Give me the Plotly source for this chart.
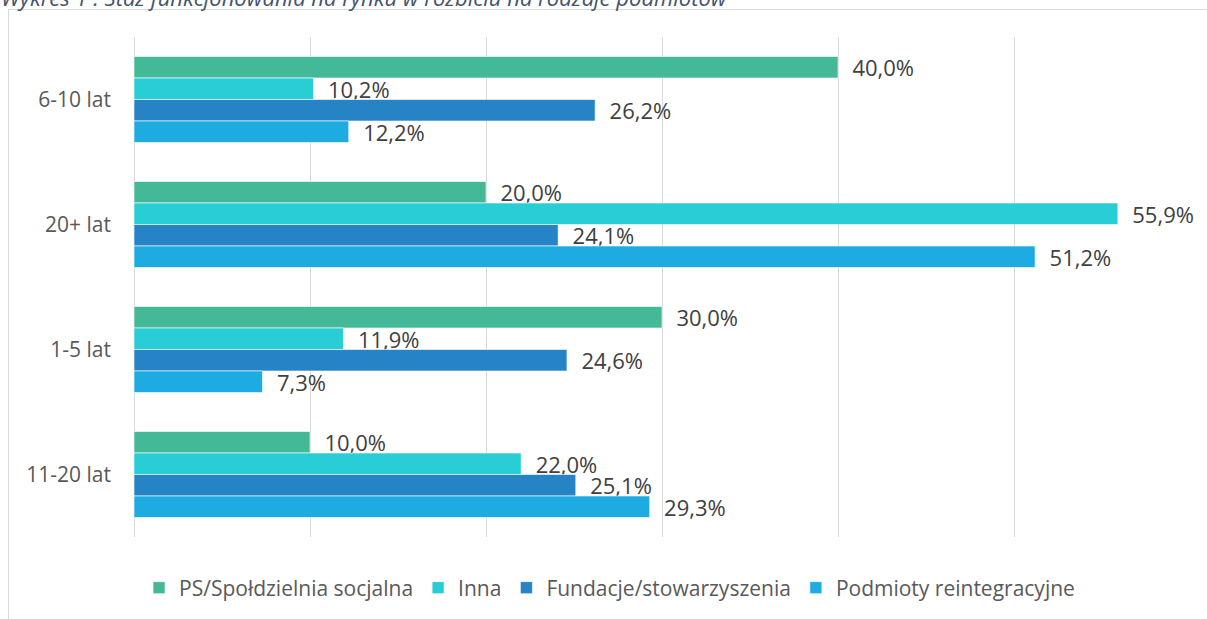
import plotly.graph_objects as go

categories = ["6-10 lat", "20+ lat", "1-5 lat", "11-20 lat"]
series_names = ["PS/Społdzielnia socjalna", "Inna", "Fundacje/stowarzyszenia", "Podmioty reintegracyjne"]
ps_spoldzielnia = [40.0, 20.0, 30.0, 10.0]
inna = [10.2, 55.9, 11.9, 22.0]
fundacje = [26.2, 24.1, 24.6, 25.1]
podmioty = [12.2, 51.2, 7.3, 29.3]
colors = ["#43B997", "#29CDD6", "#2683C6", "#1DABE2"]
x_ticks = [0, 10, 20, 30, 40, 50, 60]
title_text = "Wykres 1 : Staż funkcjonowania na rynku w rozbiciu na rodzaje podmiotów"

FONT = "Open Sans"
W, H = 1207, 619
L, R, T, B = 134, 17, 37, 82
pw, ph = W - L - R, H - T - B

fig = go.Figure()
for name, vals, col in zip(series_names, [ps_spoldzielnia, inna, fundacje, podmioty], colors):
    fig.add_trace(go.Bar(
        y=categories, x=vals, name=name, orientation="h",
        marker=dict(color=col, line=dict(color="white", width=0.6)),
        texttemplate="\u00a0\u00a0%{x:.1f}%", textposition="outside",
        textfont=dict(family=FONT, size=22, color="#404040"),
        constraintext="none", cliponaxis=False, hoverinfo="skip",
    ))

def px_x(p):
    return (p - L) / pw

def px_y(p):
    return (H - B - p) / ph

fig.update_layout(
    width=W, height=H,
    margin=dict(l=L, r=R, t=T, b=B, autoexpand=False),
    paper_bgcolor="white", plot_bgcolor="white",
    separators=", ",
    barmode="group", bargap=0.312, bargroupgap=0,
    font=dict(family=FONT, color="#595959"),
    xaxis=dict(range=[0, 60], tickvals=x_ticks, showticklabels=False,
               showgrid=True, gridcolor="#D9D9D9", gridwidth=1,
               zeroline=True, zerolinecolor="#D9D9D9", zerolinewidth=1,
               showline=False, fixedrange=True),
    yaxis=dict(autorange="reversed", showgrid=False, showline=False, ticks="",
               tickfont=dict(family=FONT, size=21, color="#595959"),
               ticklabelstandoff=22, fixedrange=True),
    legend=dict(orientation="h", xref="container", x=0.505, xanchor="center",
                y=px_y(588), yanchor="middle", entrywidthmode="pixels",
                font=dict(family=FONT, size=21, color="#595959"),
                itemclick=False, itemdoubleclick=False),
    showlegend=True,
    shapes=[dict(type="rect", xref="paper", yref="paper",
                 x0=px_x(8.5), x1=px_x(1230), y0=px_y(9.5), y1=px_y(660),
                 line=dict(color="#D9D9D9", width=1), fillcolor="rgba(0,0,0,0)",
                 layer="above")],
    annotations=[dict(text=title_text, xref="paper", yref="paper",
                      x=px_x(-1), y=px_y(-3), xanchor="left", yanchor="middle",
                      showarrow=False,
                      font=dict(family=FONT, size=22, color="#44546A", style="italic"))],
)

fig.write_html("out.html", config={"displayModeBar": False, "staticPlot": True},
               post_script="document.body.style.margin='0';document.body.style.padding='0';")
